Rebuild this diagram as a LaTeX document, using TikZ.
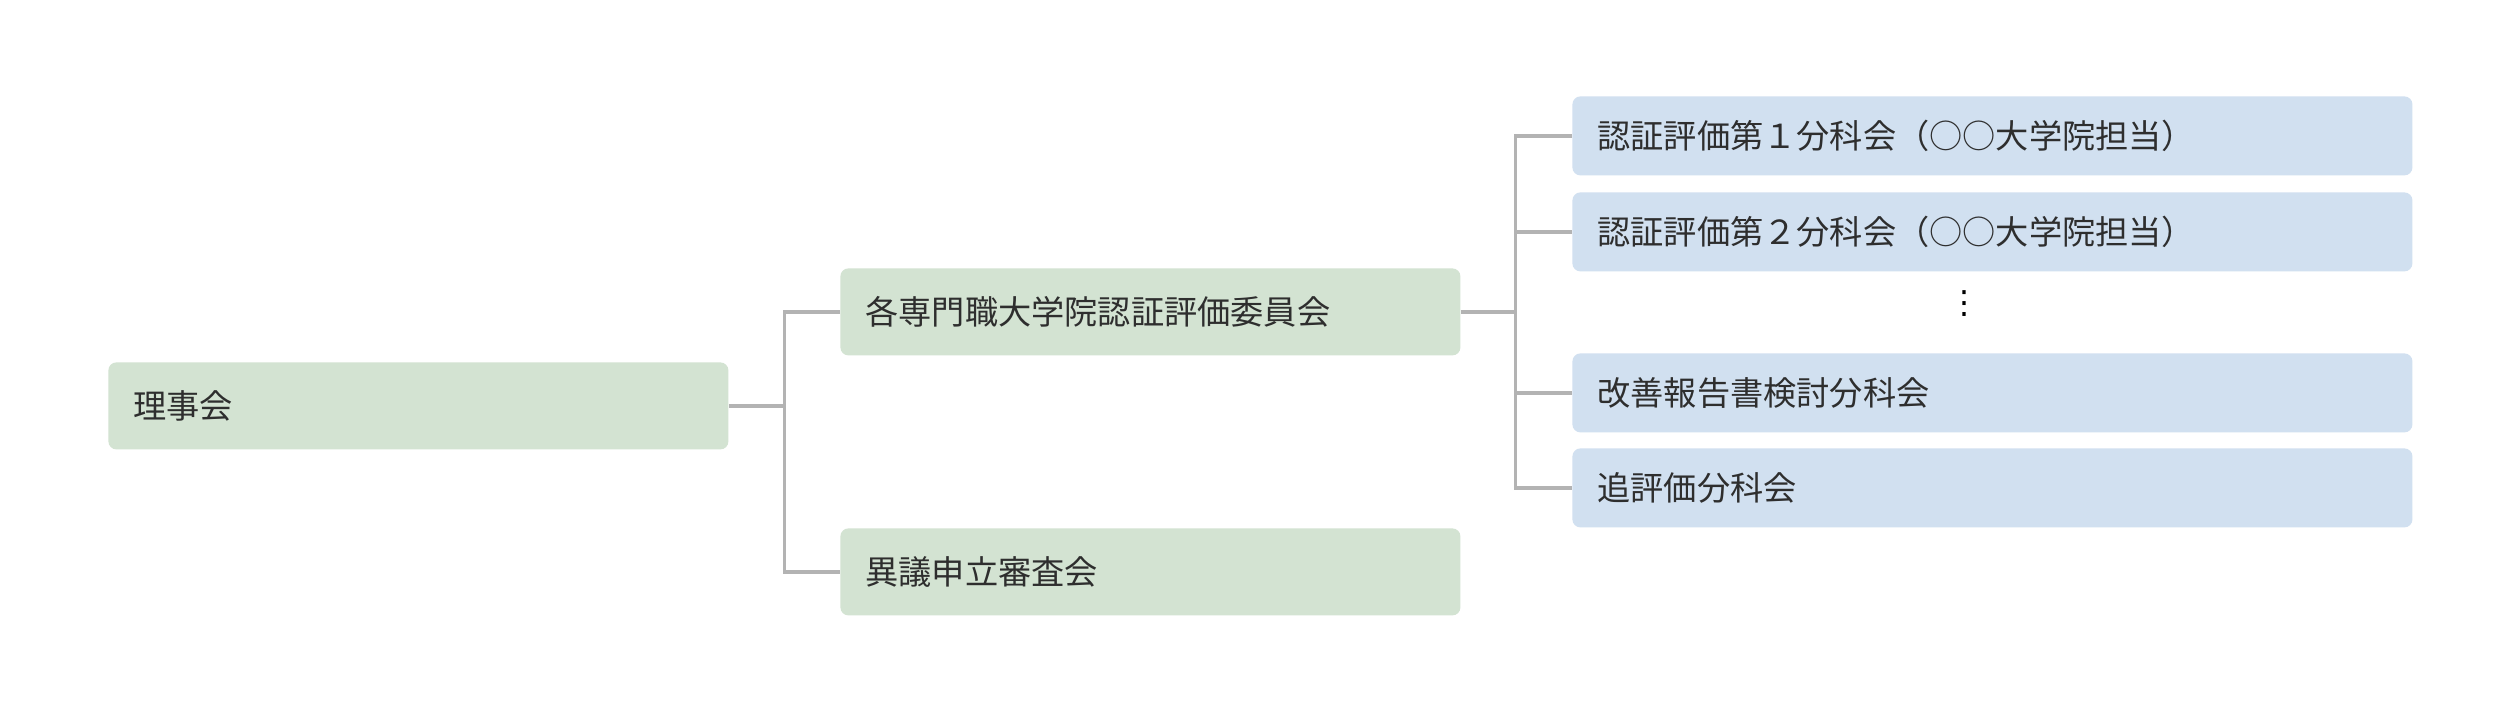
\documentclass[tikz,border=0pt]{standalone}
\usepackage{fontspec}
\newfontfamily\cjk{Noto Sans CJK JP}
\newfontfamily\dejavu{DejaVu Sans}
\definecolor{greenbox}{HTML}{D3E3D2}
\definecolor{bluebox}{HTML}{D1E0F0}
\definecolor{linegray}{HTML}{B3B3B3}
\definecolor{textc}{HTML}{2E2E2E}
\tikzset{
  basebox/.style={rounded corners=4pt, inner xsep=12.5pt, inner ysep=0pt, anchor=north west,
    align=left, text=textc, font=\cjk\fontsize{16.6pt}{20pt}\selectfont},
  greenbox/.style={basebox, fill=greenbox, text width=285pt, minimum height=43.5pt},
  bluebox/.style={basebox, fill=bluebox, text width=395pt, minimum height=39.5pt},
  conn/.style={draw=linegray, line width=1.6pt}
}
\begin{document}
\begin{tikzpicture}[x=0.5pt,y=-0.5pt]
\useasboundingbox[fill=white] (0,0) rectangle (2520,712);
\node[greenbox] (A) at (108,362) {理事会};
\node[greenbox] (B) at (840,268) {各専門職大学院認証評価委員会};
\node[greenbox] (C) at (840,528) {異議申立審査会};
\node[bluebox] (D1) at (1572,96) {認証評価第１分科会（○○大学院担当）};
\node[bluebox] (D2) at (1572,192) {認証評価第２分科会（○○大学院担当）};
\node[bluebox] (D3) at (1572,353) {改善報告書検討分科会};
\node[bluebox] (D4) at (1572,448) {追評価分科会};
\node[font=\dejavu\fontsize{16pt}{18pt}\selectfont, text=black, inner sep=0pt] (dots) at (1964,304) {⋮};
\coordinate (t1) at ([xshift=28pt]A.east);
\coordinate (t2) at ([xshift=27.5pt]B.east);
\draw[conn] (A.east) -- (t1);
\draw[conn] (B.west) -| (t1) |- (C.west);
\draw[conn] (B.east) -- (t2);
\draw[conn] (D1.west) -| (t2) |- (D4.west);
\draw[conn] (t2 |- D2.west) -- (D2.west);
\draw[conn] (t2 |- D3.west) -- (D3.west);
\end{tikzpicture}
\end{document}
